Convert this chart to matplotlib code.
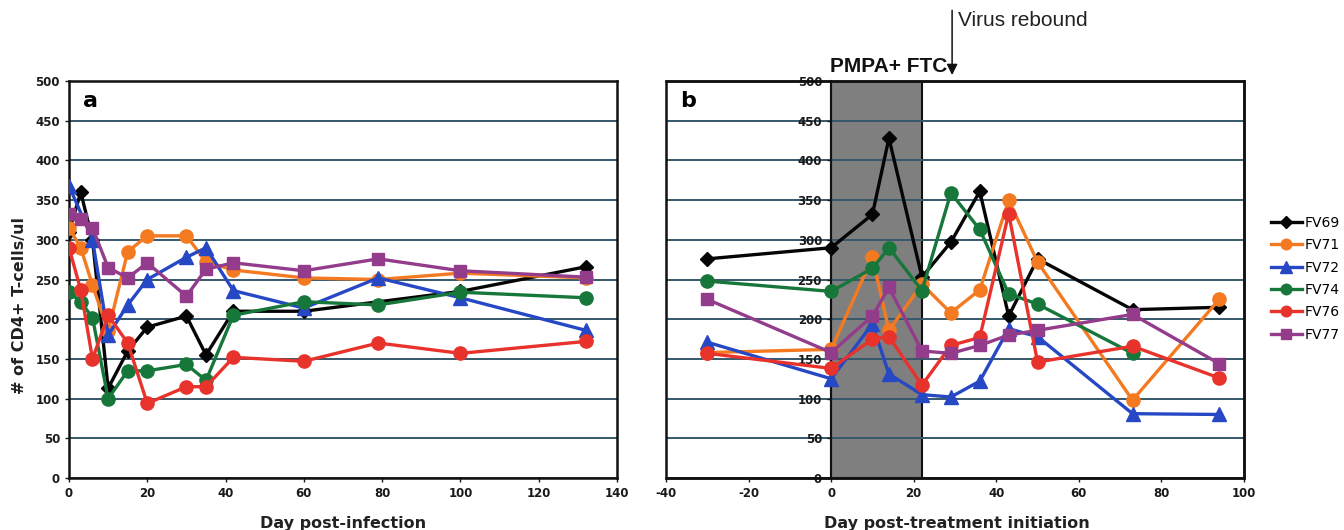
import numpy as np
import matplotlib.pyplot as plt
from matplotlib.patches import Rectangle

plt.rcParams['font.family'] = ['DejaVu Sans']
plt.rcParams['font.weight'] = 'bold'
plt.rcParams['axes.unicode_minus'] = False

animals = ["FV69", "FV71", "FV72", "FV74", "FV76", "FV77"]
colors = ["#050505", "#f47a22", "#2648c4", "#17773a", "#e8332c", "#943c8c"]
markers = ["D", "o", "^", "o", "o", "s"]
msizes = [7.5, 9.5, 10, 9.5, 9.5, 9]

# panel a: day post-infection
day_a = [0, 3, 6, 10, 15, 20, 30, 35, 42, 60, 79, 100, 132]
a_fv69 = [310, 360, 300, 113, 160, 190, 204, 155, 210, 210, np.nan, 235, 266]
a_fv71 = [315, 290, 243, 185, 285, 305, 305, 272, 262, 252, 250, 258, 252]
a_fv72 = [368, np.nan, 300, 180, 218, 250, 278, 290, 236, 214, 252, 227, 186]
a_fv74 = [234, 222, 202, 100, 135, 135, 143, 123, 205, 222, 218, 234, 227]
a_fv76 = [290, 237, 150, 205, 170, 94, 115, 115, 152, 147, 170, 157, 172]
a_fv77 = [332, 326, 315, 265, 252, 271, 229, 263, 271, 261, 276, 261, 253]

# panel b: day post-treatment initiation
day_b = [-30, 0, 10, 14, 22, 29, 36, 43, 50, 73, 94]
b_fv69 = [276, 290, 332, 428, 253, 297, 361, 204, 276, 212, 215]
b_fv71 = [158, 162, 278, 186, 244, 208, 237, 350, 272, 98, 225]
b_fv72 = [171, 125, 194, 131, 105, 102, 122, 188, 178, 81, 80]
b_fv74 = [248, 235, 264, 290, 236, 359, 313, 232, 219, 157, np.nan]
b_fv76 = [157, 138, 175, 178, 117, 167, 177, 333, 146, 166, 126]
b_fv77 = [225, 158, 204, 240, 160, 157, 167, 180, 186, 206, 144]

series_a = [a_fv69, a_fv71, a_fv72, a_fv74, a_fv76, a_fv77]
series_b = [b_fv69, b_fv71, b_fv72, b_fv74, b_fv76, b_fv77]

treatment = (0, 22)
rebound_day = 29.3

grid_col = "#35586a"

fig = plt.figure(figsize=(13.44, 5.30), dpi=100)
ax_a = fig.add_axes([69 / 1344, 1 - 478 / 530, 548 / 1344, 397 / 530])
ax_b = fig.add_axes([666 / 1344, 1 - 478 / 530, 578 / 1344, 397 / 530])


def draw(ax, days, series):
    x = np.array(days, dtype=float)
    for name, vals, c, m, ms in zip(animals, series, colors, markers, msizes):
        y = np.array(vals, dtype=float)
        ok = ~np.isnan(y)
        ax.plot(x[ok], y[ok], color=c, marker=m, markersize=ms, lw=2.4,
                label=name, zorder=3)
    ax.set_ylim(0, 500)
    ax.set_yticks(range(0, 501, 50))
    ax.yaxis.grid(True, color=grid_col, lw=1.4)
    ax.set_axisbelow(True)
    ax.tick_params(labelsize=8.5, length=3, width=1, colors="#1a1a1a")
    for sp in ax.spines.values():
        sp.set_linewidth(1.8)
        sp.set_color("#111111")


# ---- panel a
draw(ax_a, day_a, series_a)
ax_a.set_xlim(0, 140)
ax_a.set_xticks(range(0, 141, 20))
ax_a.text(0.025, 0.975, "a", transform=ax_a.transAxes, fontsize=16,
          fontweight="bold", va="top", ha="left")

# ---- panel b
ax_b.axvspan(*treatment, facecolor="#7f7f7f", edgecolor="#111111", lw=1.5, zorder=0.2)
draw(ax_b, day_b, series_b)
ax_b.set_xlim(-40, 100)
ax_b.set_xticks(range(-40, 101, 20))
ax_b.spines["left"].set_position(("data", 0))
ax_b.spines["left"].set_linewidth(1.5)
ax_b.add_patch(Rectangle((0, 0), 1, 1, transform=ax_b.transAxes, fill=False,
                         lw=1.8, ec="#111111", zorder=5, clip_on=False))
ax_b.text(0.025, 0.975, "b", transform=ax_b.transAxes, fontsize=16,
          fontweight="bold", va="top", ha="left")

# annotations above panel b
ax_b.annotate("", xy=(rebound_day, 1.015), xycoords=("data", "axes fraction"),
              xytext=(rebound_day, 1.178), textcoords=("data", "axes fraction"),
              arrowprops=dict(arrowstyle="-|>", color="#111111", lw=1.1,
                              mutation_scale=16, shrinkA=0, shrinkB=0),
              annotation_clip=False)
fig.text(958 / 1344, 1 - 11 / 530, "Virus rebound", fontsize=15, fontweight="normal",
         family="Liberation Sans", va="top", ha="left", color="#222222")
fig.text(947 / 1344, 1 - 66 / 530, "PMPA+ FTC", fontsize=15, fontweight="bold",
         family="Liberation Sans", va="center", ha="right", color="#111111")

# axis labels
fig.text(20 / 1344, 1 - 305 / 530, "# of CD4+ T-cells/ul", rotation=90,
         fontsize=11.5, fontweight="bold", va="center", ha="center", color="#222222")
fig.text(343 / 1344, 1 - 528 / 530, "Day post-infection", fontsize=11.5,
         fontweight="bold", va="baseline", ha="center", color="#222222")
fig.text(957 / 1344, 1 - 528 / 530, "Day post-treatment initiation", fontsize=11.5,
         fontweight="bold", va="baseline", ha="center", color="#222222")

# legend
handles, labels = ax_b.get_legend_handles_labels()
fig.legend(handles, labels, loc="upper left", bbox_to_anchor=(1271 / 1344, 1 - 216 / 530),
           frameon=False, handlelength=2.2, handletextpad=0.25,
           labelspacing=0.6, markerscale=0.8, borderaxespad=0, borderpad=0,
           prop={"size": 10, "weight": "normal"})

fig.savefig("out.png", dpi=100, facecolor="white")
